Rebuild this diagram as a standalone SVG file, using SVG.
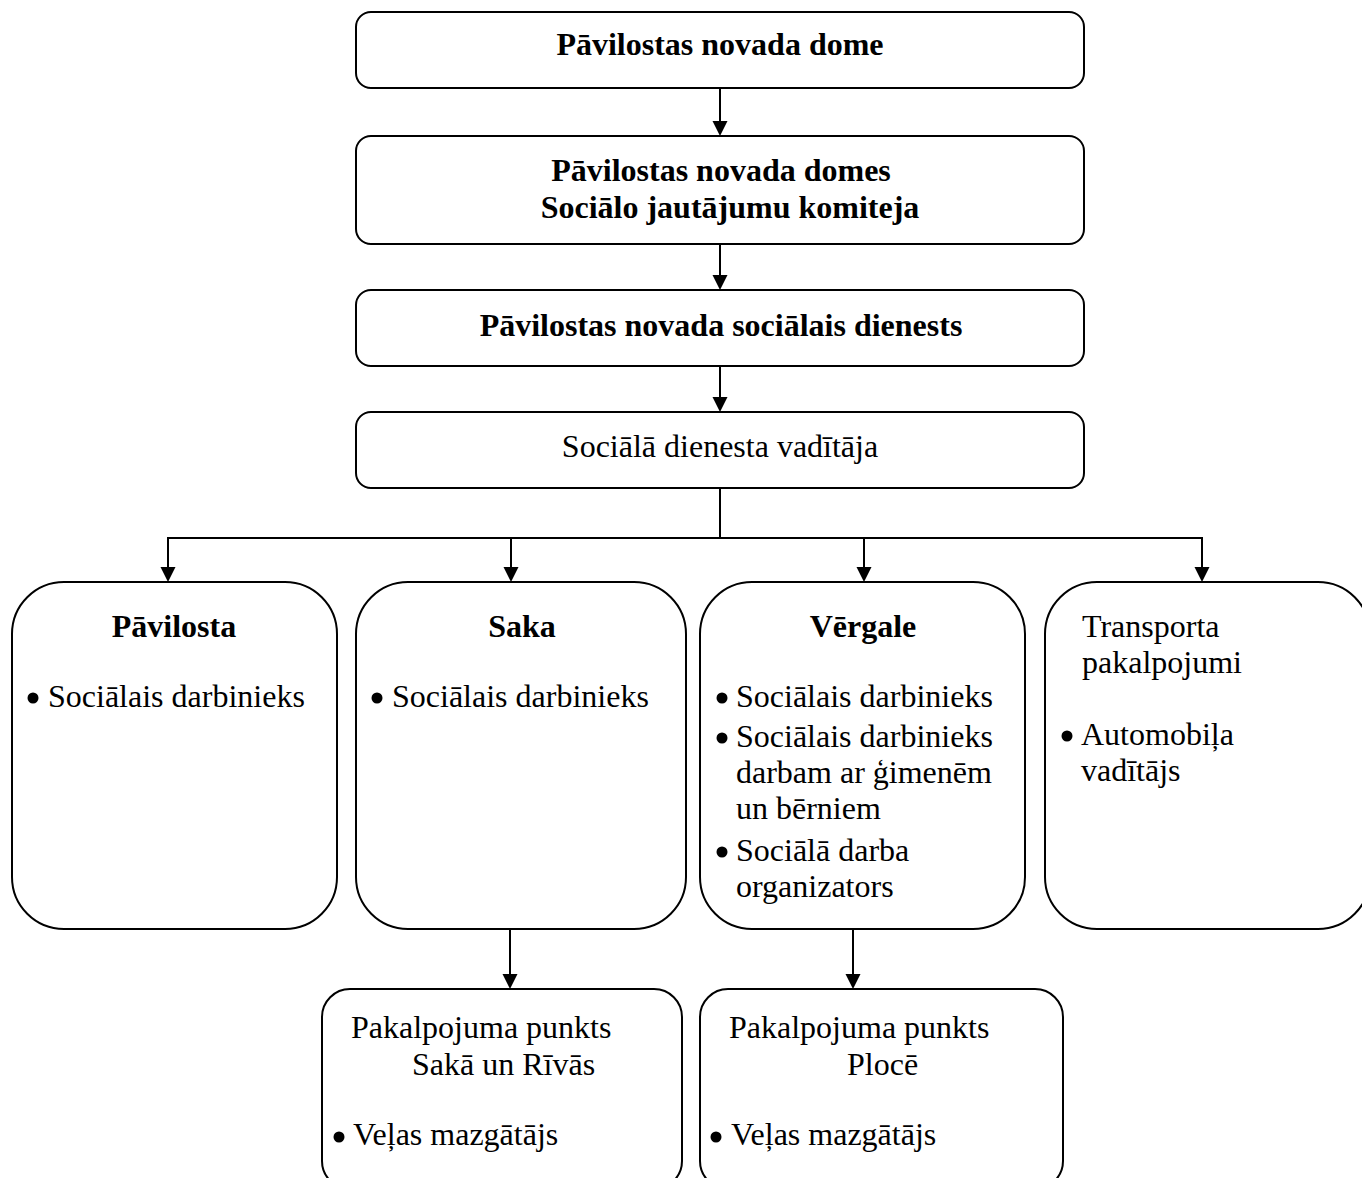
<svg xmlns="http://www.w3.org/2000/svg" width="1362" height="1178" viewBox="0 0 1362 1178">
  <style>
    .box { fill: #ffffff; stroke: #000000; stroke-width: 2; }
    .conn { fill: none; stroke: #000000; stroke-width: 2; }
    text { font-family: "Liberation Serif", "Times New Roman", serif; font-size: 32px; fill: #000000; }
    .b { font-weight: bold; }
    .c { text-anchor: middle; }
  </style>
  <defs>
    <marker id="arr" markerUnits="userSpaceOnUse" markerWidth="16" markerHeight="16" viewBox="0 0 16 16" refX="8" refY="15" orient="auto-start-reverse">
      <path d="M0,0 L16,0 L8,15 Z" fill="#000000" transform="rotate(0)"/>
    </marker>
  </defs>
  <rect width="1362" height="1178" fill="#ffffff"/>

  <g id="connectors">
    <line class="conn" x1="720" y1="88" x2="720" y2="134"/>
    <polygon points="712.5,121 727.5,121 720,136"/>
    <line class="conn" x1="720" y1="244" x2="720" y2="288"/>
    <polygon points="712.5,275 727.5,275 720,290"/>
    <line class="conn" x1="720" y1="366" x2="720" y2="410"/>
    <polygon points="712.5,397 727.5,397 720,412"/>
    <polyline class="conn" points="720,488 720,538"/>
    <polyline class="conn" points="168,570 168,538 1202,538 1202,570"/>
    <line class="conn" x1="511" y1="538" x2="511" y2="570"/>
    <line class="conn" x1="864" y1="538" x2="864" y2="570"/>
    <polygon points="160.5,567 175.5,567 168,582"/>
    <polygon points="503.5,567 518.5,567 511,582"/>
    <polygon points="856.5,567 871.5,567 864,582"/>
    <polygon points="1194.5,567 1209.5,567 1202,582"/>
    <line class="conn" x1="510" y1="929" x2="510" y2="976"/>
    <polygon points="502.5,974 517.5,974 510,989"/>
    <line class="conn" x1="853" y1="929" x2="853" y2="976"/>
    <polygon points="845.5,974 860.5,974 853,989"/>
  </g>

  <g id="node-dome">
    <rect class="box" x="356" y="12" width="728" height="76" rx="15" ry="15"/>
    <text class="b c" x="720" y="55">Pāvilostas novada dome</text>
  </g>

  <g id="node-komiteja">
    <rect class="box" x="356" y="136" width="728" height="108" rx="15" ry="15"/>
    <text class="b c" x="721" y="181">Pāvilostas novada domes</text>
    <text class="b c" x="730" y="218">Sociālo jautājumu komiteja</text>
  </g>

  <g id="node-dienests">
    <rect class="box" x="356" y="290" width="728" height="76" rx="15" ry="15"/>
    <text class="b c" x="721" y="336">Pāvilostas novada sociālais dienests</text>
  </g>

  <g id="node-vaditaja">
    <rect class="box" x="356" y="412" width="728" height="76" rx="15" ry="15"/>
    <text class="c" x="720" y="457">Sociālā dienesta vadītāja</text>
  </g>

  <g id="node-pavilosta">
    <rect class="box" x="12" y="582" width="325" height="347" rx="52" ry="52"/>
    <text class="b c" x="174" y="637">Pāvilosta</text>
    <circle cx="33" cy="698" r="5.5"/>
    <text x="48" y="707">Sociālais darbinieks</text>
  </g>

  <g id="node-saka">
    <rect class="box" x="356" y="582" width="330" height="347" rx="52" ry="52"/>
    <text class="b c" x="522" y="637">Saka</text>
    <circle cx="377" cy="698" r="5.5"/>
    <text x="392" y="707">Sociālais darbinieks</text>
  </g>

  <g id="node-vergale">
    <rect class="box" x="700" y="582" width="325" height="347" rx="52" ry="52"/>
    <text class="b c" x="863" y="637">Vērgale</text>
    <circle cx="722" cy="698" r="5.5"/>
    <text x="736" y="707">Sociālais darbinieks</text>
    <circle cx="722" cy="738" r="5.5"/>
    <text x="736" y="747">Sociālais darbinieks</text>
    <text x="736" y="783">darbam ar ģimenēm</text>
    <text x="736" y="819">un bērniem</text>
    <circle cx="722" cy="852" r="5.5"/>
    <text x="736" y="861">Sociālā darba</text>
    <text x="736" y="897">organizators</text>
  </g>

  <g id="node-transports">
    <rect class="box" x="1045" y="582" width="325" height="347" rx="52" ry="52"/>
    <text x="1082" y="637">Transporta</text>
    <text x="1082" y="673">pakalpojumi</text>
    <circle cx="1067" cy="736" r="5.5"/>
    <text x="1081" y="745">Automobiļa</text>
    <text x="1081" y="781">vadītājs</text>
  </g>

  <g id="node-punkts-saka">
    <rect class="box" x="322" y="989" width="360" height="200" rx="28" ry="28"/>
    <text x="351" y="1038">Pakalpojuma punkts</text>
    <text x="412" y="1075">Sakā un Rīvās</text>
    <circle cx="339" cy="1137" r="5.5"/>
    <text x="353" y="1145">Veļas mazgātājs</text>
  </g>

  <g id="node-punkts-plocē">
    <rect class="box" x="700" y="989" width="363" height="200" rx="28" ry="28"/>
    <text x="729" y="1038">Pakalpojuma punkts</text>
    <text x="847" y="1075">Plocē</text>
    <circle cx="716" cy="1137" r="5.5"/>
    <text x="731" y="1145">Veļas mazgātājs</text>
  </g>
</svg>
